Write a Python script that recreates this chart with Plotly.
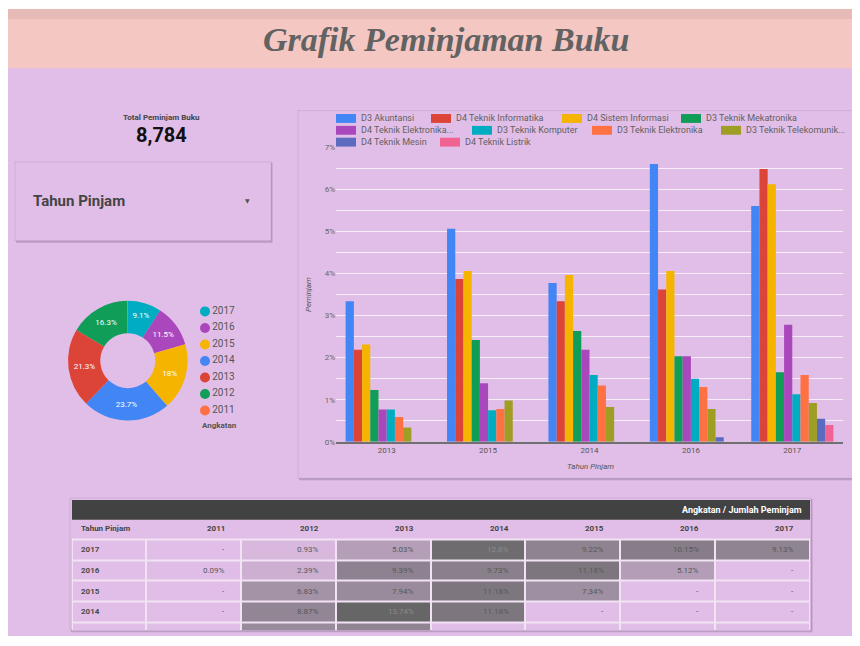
import plotly.graph_objects as go

# ---------------- data ----------------
tahun_pinjam = ['2013', '2015', '2014', '2016', '2017']
jurusan = ['D3 Akuntansi', 'D4 Teknik Informatika', 'D4 Sistem Informasi', 'D3 Teknik Mekatronika',
           'D4 Teknik Elektronika...', 'D3 Teknik Komputer', 'D3 Teknik Elektronika',
           'D3 Teknik Telekomunik...', 'D4 Teknik Mesin', 'D4 Teknik Listrik']
d3_akuntansi = [3.34, 5.06, 3.77, 6.60, 5.60]
d4_informatika = [2.19, 3.87, 3.34, 3.62, 6.48]
d4_sistem_informasi = [2.31, 4.06, 3.96, 4.06, 6.12]
d3_mekatronika = [1.23, 2.42, 2.63, 2.03, 1.65]
d4_elektronika = [0.77, 1.39, 2.19, 2.03, 2.78]
d3_komputer = [0.77, 0.75, 1.59, 1.50, 1.13]
d3_elektronika = [0.59, 0.78, 1.34, 1.30, 1.59]
d3_telekomunikasi = [0.34, 0.98, 0.83, 0.78, 0.92]
d4_mesin = [None, None, None, 0.11, 0.55]
d4_listrik = [None, None, None, None, 0.40]
series = [d3_akuntansi, d4_informatika, d4_sistem_informasi, d3_mekatronika, d4_elektronika,
          d3_komputer, d3_elektronika, d3_telekomunikasi, d4_mesin, d4_listrik]
y_ticks = [0, 1, 2, 3, 4, 5, 6, 7]

angkatan = ['2017', '2016', '2015', '2014', '2013', '2012', '2011']
angkatan_share = [9.1, 11.5, 18.0, 23.7, 21.3, 16.3, 0.1]

total_peminjam = '8,784'

table_cols = ['2011', '2012', '2013', '2014', '2015', '2016', '2017']
table_rows = ['2017', '2016', '2015', '2014', '2013']
row_2017 = [None, 0.93, 5.03, 12.8, 9.22, 10.15, 9.13]
row_2016 = [0.09, 2.39, 9.39, 9.73, 11.18, 5.12, None]
row_2015 = [None, 6.83, 7.94, 11.18, 7.34, None, None]
row_2014 = [None, 8.87, 13.74, 11.18, None, None, None]
row_2013 = [None, 8.0, 9.0, None, None, None, None]  # mostly hidden (scrolled), estimated
table_values = [row_2017, row_2016, row_2015, row_2014, row_2013]

# ---------------- styles ----------------
bar_colors = ['#4285F4', '#DB4437', '#F4B400', '#0F9D58', '#AB47BC',
              '#00ACC1', '#FF7043', '#9E9D24', '#5C6BC0', '#F06292']
pie_colors = ['#00ACC1', '#AB47BC', '#F4B400', '#4285F4', '#DB4437', '#0F9D58', '#FF7043']
PURPLE = '#E1BEE7'
PINK = '#F4C7C3'
TXT = '#5f5f5f'
FONT = 'Roboto'
OFF = 8                # page body margin
W, H = 860 - OFF, 646 - OFF


def X(p):
    return (p - OFF) / W


def Y(p):
    return 1 - (p - OFF) / H


fig = go.Figure()

# ---- bar chart ----
for name, vals, col in zip(jurusan, series, bar_colors):
    fig.add_trace(go.Bar(x=tahun_pinjam, y=vals, name=name, marker=dict(color=col, line=dict(width=0)),
                         xaxis='x', yaxis='y', hoverinfo='skip'))

# ---- donut ----
fig.add_trace(go.Pie(labels=angkatan, values=angkatan_share, hole=0.46, sort=False, direction='clockwise',
                     rotation=0, marker=dict(colors=pie_colors, line=dict(width=0)),
                     text=[f'{v:g}%' if v >= 1 else '' for v in angkatan_share], textinfo='text',
                     textposition='inside', insidetextorientation='horizontal',
                     textfont=dict(color='white', size=8, family=FONT),
                     domain=dict(x=[X(67.3), X(188.3)], y=[Y(422.3), Y(301)]), hoverinfo='skip'))

# ---- donut legend (circles) ----
fig.add_trace(go.Scatter(x=[0] * len(angkatan), y=list(range(len(angkatan))), mode='markers+text',
                         text=angkatan, textposition='middle right',
                         textfont=dict(size=10, color='#555', family=FONT),
                         marker=dict(size=10, color=pie_colors), cliponaxis=False,
                         xaxis='x2', yaxis='y2', hoverinfo='skip'))

# ---- table heatmap ----
col_edges = [0, 0.78] + [0.78 + k for k in range(1, len(table_cols) + 1)]
z = [[0] + [v if v is not None else 0 for v in r] for r in table_values]
fig.add_trace(go.Heatmap(z=z, x=col_edges, y=list(range(len(table_rows))),
                         colorscale=[[0, PURPLE], [1, '#666666']], zmin=0, zmax=13.74,
                         showscale=False, xgap=2, ygap=2, xaxis='x3', yaxis='y3', hoverinfo='skip'))

shapes = []
ann = []

# backgrounds
shapes.append(dict(type='rect', xref='paper', yref='paper', x0=X(7), x1=X(870), y0=Y(641), y1=Y(5),
                   fillcolor=PURPLE, line=dict(width=0), layer='below'))
shapes.append(dict(type='rect', xref='paper', yref='paper', x0=X(7), x1=X(870), y0=Y(65), y1=Y(5),
                   fillcolor=PINK, line=dict(width=0), layer='below'))
shapes.append(dict(type='rect', xref='paper', yref='paper', x0=X(7), x1=X(870), y0=Y(15), y1=Y(5),
                   fillcolor='#E6BAB6', line=dict(width=0), layer='below'))


def card(x0, y0, x1, y1):
    shapes.append(dict(type='rect', xref='paper', yref='paper', x0=X(x0 + 1), x1=X(x1 + 1.5),
                       y0=Y(y1 + 2), y1=Y(y0 + 1), fillcolor='rgba(60,40,70,0.22)', line=dict(width=0),
                       layer='below'))
    shapes.append(dict(type='rect', xref='paper', yref='paper', x0=X(x0), x1=X(x1), y0=Y(y1), y1=Y(y0),
                       fillcolor=PURPLE, line=dict(width=1, color='rgba(60,40,70,0.10)'), layer='below'))


card(15, 160, 271, 240)
card(298, 108, 880, 481)
card(70, 501, 811, 635)

# table header band & body background
shapes.append(dict(type='rect', xref='paper', yref='paper', x0=X(72), x1=X(810), y0=Y(523), y1=Y(503),
                   fillcolor='#424242', line=dict(width=0), layer='below'))
shapes.append(dict(type='rect', xref='paper', yref='paper', x0=X(72), x1=X(810), y0=Y(635), y1=Y(542),
                   fillcolor='#F1E3F3', line=dict(width=0), layer='below'))

# bar legend (flow layout positions)
legend_pos = [(336, 116), (431, 116), (562, 116), (681, 116),
              (336, 128), (472, 128), (592, 128), (721, 128),
              (336, 140), (440, 140)]
for (lx, ly), name, col in zip(legend_pos, jurusan, bar_colors):
    shapes.append(dict(type='rect', xref='paper', yref='paper', x0=X(lx), x1=X(lx + 20),
                       y0=Y(ly + 4.5), y1=Y(ly - 4.5), fillcolor=col, line=dict(width=0)))
    ann.append(dict(x=X(lx + 23), y=Y(ly), xref='paper', yref='paper', text=name, showarrow=False,
                    xanchor='left', font=dict(size=9, color='#616161', family=FONT)))

# title
ann.append(dict(x=X(446), y=Y(36), xref='paper', yref='paper', text='Grafik Peminjaman Buku', showarrow=False,
                font=dict(size=34, color='#626262', family='Liberation Serif', weight='bold', style='italic')))
# KPI
ann.append(dict(x=X(161), y=Y(115), xref='paper', yref='paper', text='Total Peminjam Buku', showarrow=False,
                font=dict(size=8, color='#444', family=FONT, weight='bold')))
ann.append(dict(x=X(161), y=Y(133), xref='paper', yref='paper', text=total_peminjam, showarrow=False,
                font=dict(size=20, color='#111', family=FONT, weight='bold')))
# dropdown
ann.append(dict(x=X(31), y=Y(200), xref='paper', yref='paper', text='Tahun Pinjam', showarrow=False,
                xanchor='left', font=dict(size=15, color='#444', family=FONT, weight='bold')))
ann.append(dict(x=X(247), y=Y(199), xref='paper', yref='paper', text='▼', showarrow=False,
                font=dict(size=6, color='#555', family='DejaVu Sans')))
# donut legend title
ann.append(dict(x=X(200), y=Y(427), xref='paper', yref='paper', text='Angkatan', showarrow=False,
                xanchor='left', font=dict(size=8, color='#555', family=FONT, weight='bold')))
# bar axis titles
ann.append(dict(x=X(309), y=Y(295), xref='paper', yref='paper', text='Peminjam', showarrow=False,
                textangle=-90, font=dict(size=8, color='#555', family=FONT, style='italic')))
ann.append(dict(x=X(590), y=Y(469), xref='paper', yref='paper', text='Tahun Pinjam', showarrow=False,
                font=dict(size=8, color='#555', family=FONT, style='italic')))

# table header texts
ann.append(dict(x=X(804), y=Y(513), xref='paper', yref='paper', text='Angkatan / Jumlah Peminjam',
                showarrow=False, xanchor='right', font=dict(size=9, color='white', family=FONT, weight='bold')))
ann.append(dict(x=0.07, y=Y(532), xref='x3', yref='paper', text='Tahun Pinjam', showarrow=False,
                xanchor='left', font=dict(size=8, color='#444', family=FONT, weight='bold')))
for j, c in enumerate(table_cols):
    ann.append(dict(x=col_edges[j + 2] - 0.15, y=Y(532), xref='x3', yref='paper', text=c, showarrow=False,
                    xanchor='right', font=dict(size=8, color='#444', family=FONT, weight='bold')))
for i, (rname, rvals) in enumerate(zip(table_rows[:4], table_values[:4])):
    ann.append(dict(x=0.07, y=i, xref='x3', yref='y3', text=rname, showarrow=False, xanchor='left',
                    font=dict(size=8, color='#4a4a4a', family=FONT, weight='bold')))
    for j, v in enumerate(rvals):
        tcol = '#8c8c8c' if (v is not None and v > 11.5) else '#585858'
        ann.append(dict(x=col_edges[j + 2] - 0.15, y=i, xref='x3', yref='y3',
                        text=f'{v:g}%' if v is not None else '-', showarrow=False, xanchor='right',
                        font=dict(size=8, color=tcol, family=FONT)))

for a in ann:
    a.setdefault('xanchor', 'center')
    a.setdefault('yanchor', 'middle')

fig.update_layout(
    width=W, height=H, margin=dict(l=0, r=0, t=0, b=0),
    paper_bgcolor='white', plot_bgcolor='rgba(0,0,0,0)',
    showlegend=False, barmode='group', bargap=0.19, bargroupgap=0,
    font=dict(family=FONT, color=TXT),
    xaxis=dict(domain=[X(336), X(843)], type='category', showline=True, linecolor='#707070', linewidth=1.5,
               ticks='', showgrid=False, tickfont=dict(size=8, color='#555'), fixedrange=True),
    yaxis=dict(domain=[Y(444), Y(145)], range=[0, 7], tickmode='array', tickvals=y_ticks,
               ticktext=[f'{v}%' for v in y_ticks],
               showgrid=True, gridcolor='#F6EDF8', gridwidth=1.3, zeroline=False, ticks='',
               minor=dict(dtick=0.5, showgrid=True, gridcolor='#F6EDF8', gridwidth=1.3),
               tickfont=dict(size=8, color='#666')),
    xaxis2=dict(domain=[X(195), X(265)], range=[-1, 6], visible=False),
    yaxis2=dict(domain=[Y(420.6), Y(303.3)], range=[6.5, -0.5], visible=False),
    xaxis3=dict(domain=[X(72), X(810)], range=[0, col_edges[-1]], visible=False),
    yaxis3=dict(domain=[Y(635), Y(543)], range=[-0.5 + 92 / 21, -0.5], visible=False),
    shapes=shapes, annotations=ann,
)

fig.write_html('out.html')
